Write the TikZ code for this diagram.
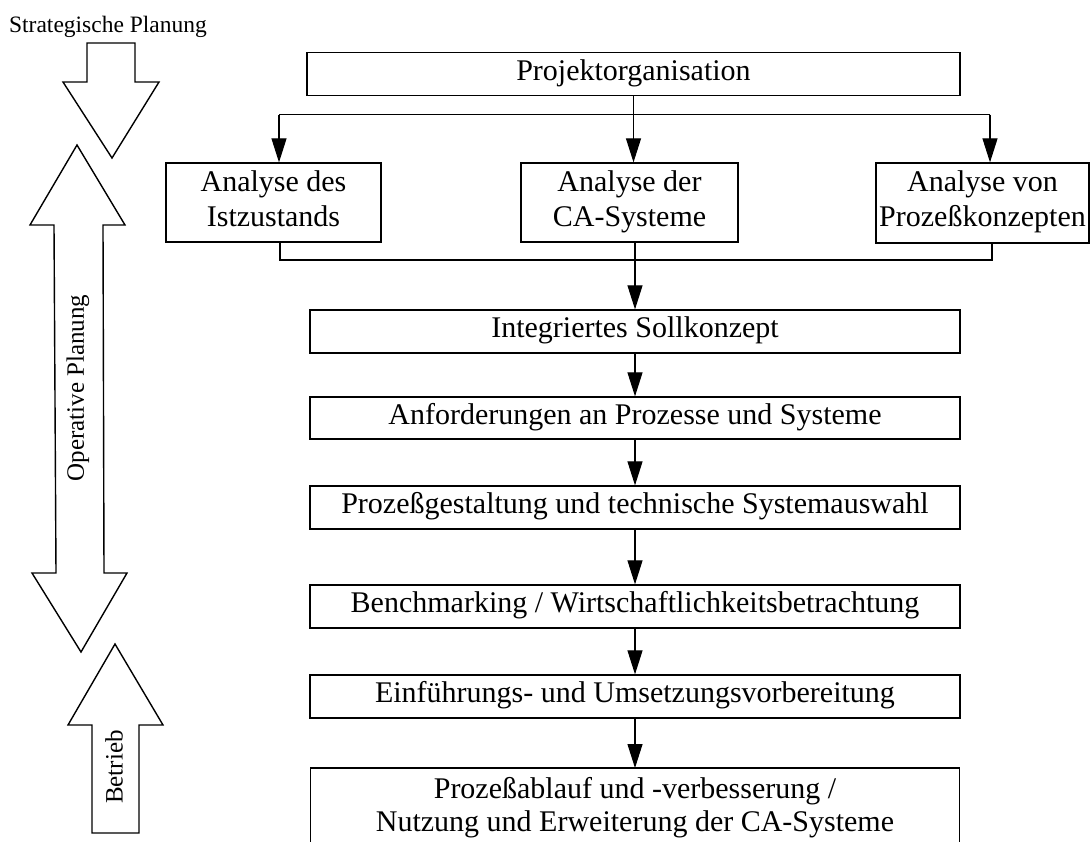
\documentclass[tikz,border=0pt]{standalone}
\usepackage{fontspec}
\setmainfont{Liberation Serif}
\usetikzlibrary{arrows.meta}
% fixed top and bottom of two-line box texts
\newcommand\linetop{\rule{0pt}{21pt}}
\newcommand\linebot{\rule[-9pt]{0pt}{9pt}}
\begin{document}
\begin{tikzpicture}[x=1pt,y=-1pt,
  box/.style={draw, line width=1.3pt, inner sep=0pt, align=center,
              font=\fontsize{30}{35}\selectfont},
  onebox/.style={box, text height=20pt, text depth=8pt},
  opentext/.style={inner xsep=0pt, align=center, font=\fontsize{30}{33}\selectfont},
  flow/.style={line width=1.1pt, -{Triangle[length=24pt,width=15pt]}},
  link/.style={line width=1.1pt},
  bigarrow/.style={draw, line width=1.4pt, line join=miter},
  side/.style={inner sep=0pt, font=\fontsize{25}{28}\selectfont}]
\useasboundingbox (0,0) rectangle (1091,841);

% planning phases on the left
\draw[bigarrow] (87,43) -- (135,43) -- (135,82) -- (159,82) -- (112,158)
  -- (63,82) -- (87,82) -- cycle;
\node[side, font=\fontsize{23.5}{26}\selectfont] (strat) at (108,27) {Strategische Planung};

\draw[bigarrow] (77,145) -- (125,225) -- (103,225) -- (104,573) -- (127,573)
  -- (81,652) -- (32,573) -- (56,573) -- (54,225) -- (30,225) -- cycle;
\node[side, rotate=90] (oper) at (78,388) {Operative Planung};

\draw[bigarrow] (115,644) -- (163,725) -- (139,725) -- (139,833) -- (92,833)
  -- (92,725) -- (68,725) -- cycle;
\node[side, rotate=90] (betr) at (114,767) {Betrieb};

% project boxes
\node[onebox, minimum width=653pt, minimum height=43pt] (po) at (633.5,74) {Projektorganisation};
\node[box, minimum width=215pt, minimum height=79pt] (ist) at (273.5,202.5) {\linetop Analyse des\\Istzustands\linebot};
\node[box, minimum width=217pt, minimum height=79pt] (ca) at (629.5,202.5) {\linetop Analyse der\\CA-Systeme\linebot};
\node[box, minimum width=213pt, minimum height=80pt] (pk) at (982.5,203) {\linetop Analyse von\\Prozeßkonzepten\linebot};

\node[onebox, minimum width=650pt, minimum height=43pt] (sk) at (635,331.5) {Integriertes Sollkonzept};
\node[onebox, minimum width=650pt, minimum height=42pt] (an) at (635,418) {Anforderungen an Prozesse und Systeme};
\node[onebox, minimum width=650pt, minimum height=43pt] (pg) at (635,507.5) {Prozeßgestaltung und technische Systemauswahl};
\node[onebox, minimum width=650pt, minimum height=43pt] (bm) at (635,606.5) {Benchmarking / Wirtschaftlichkeitsbetrachtung};
\node[onebox, minimum width=650pt, minimum height=43pt] (ef) at (635,696.5) {Einführungs- und Umsetzungsvorbereitung};
% last phase: box open towards the bottom edge
\node[opentext, anchor=north, inner ysep=30pt, minimum width=649pt] (lastph) at (635,768)
  {\smash{Prozeßablauf und -verbesserung /}\\Nutzung und Erweiterung der CA-Systeme};
\draw[line width=1.3pt] (lastph.north west |- 0,850) -- (lastph.north west)
  -- (lastph.north east) -- (lastph.north east |- 0,850);

% distribution from the project organisation
\coordinate (splitL) at (279,114.5);
\coordinate (splitR) at (990,114.5);
\draw[link] (splitL) -- (splitR);
\draw[flow] (po.south) -- (po.south |- ca.north);
\draw[flow] (splitL) -- (splitL |- ist.north);
\draw[flow] (splitR) -- (splitR |- pk.north);

% merging of the analyses
\coordinate (joinL) at (280,260);
\coordinate (joinR) at (992,260);
\draw[link] (ist.south -| joinL) -- (joinL) -- (joinR) -- (pk.south -| joinR);
\draw[flow] (ca.south -| sk.north) -- (sk.north);

% sequence of phases
\draw[flow] (sk.south) -- (an.north);
\draw[flow] (an.south) -- (pg.north);
\draw[flow] (pg.south) -- (bm.north);
\draw[flow] (bm.south) -- (ef.north);
\draw[flow] (ef.south) -- (ef.south |- lastph.north);
\end{tikzpicture}
\end{document}
